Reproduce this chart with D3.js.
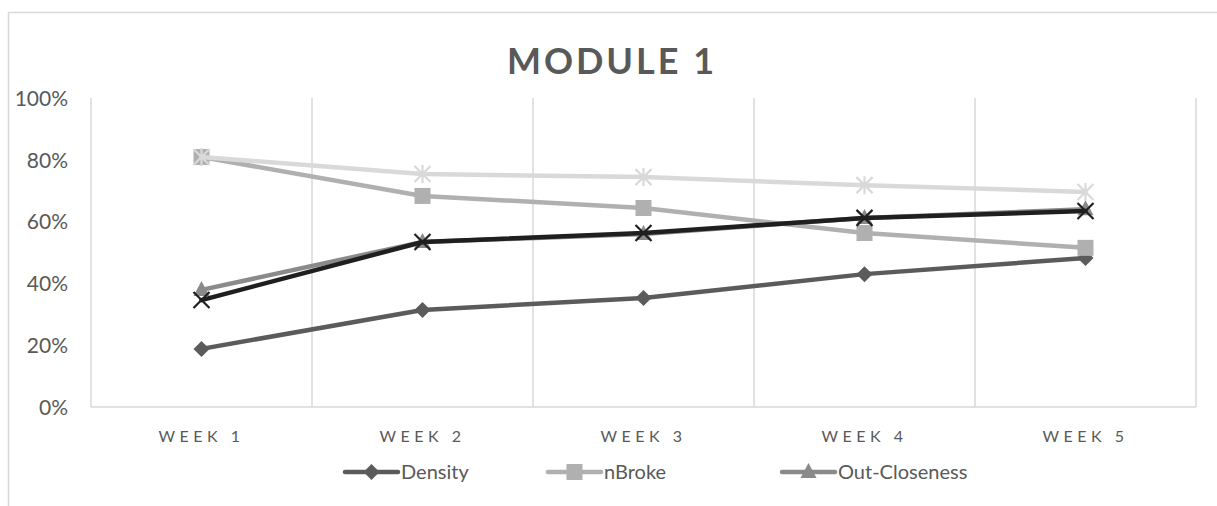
<!DOCTYPE html>
<meta charset="utf-8">
<style>
  body { margin: 0; background: #fff; }
  svg text { font-family: Lato, "Open Sans", sans-serif; fill: #595959; }
</style>
<body>
<div id="chart"></div>
<script src="https://d3js.org/d3.v7.min.js"></script>
<script>
  // data
  const weeks = ["WEEK 1", "WEEK 2", "WEEK 3", "WEEK 4", "WEEK 5"];
  const density = [0.188, 0.314, 0.353, 0.430, 0.482];
  const nBroke = [0.809, 0.683, 0.644, 0.563, 0.515];
  const outCloseness = [0.379, 0.534, 0.560, 0.612, 0.640];
  const lightSeries = [0.809, 0.754, 0.744, 0.718, 0.696];
  const darkSeries = [0.346, 0.534, 0.563, 0.612, 0.634];
  const yTicks = [0, 0.2, 0.4, 0.6, 0.8, 1];

  const series = [
    { name: "Density", values: density, color: "#5b5b5b", marker: "diamond", legend: true },
    { name: "nBroke", values: nBroke, color: "#b0b0b0", marker: "square", legend: true },
    { name: "Out-Closeness", values: outCloseness, color: "#8a8a8a", marker: "triangle", legend: true },
    { name: "Series 4", values: lightSeries, color: "#d9d9d9", marker: "star", legend: false },
    { name: "Series 5", values: darkSeries, color: "#1f1f1f", marker: "cross", legend: false }
  ];

  const width = 1217, height = 506;
  const plot = { left: 91, right: 1196, top: 98, bottom: 407 };

  const svg = d3.select("#chart").append("svg")
    .attr("width", width)
    .attr("height", height);

  // chart frame
  svg.append("rect")
    .attr("x", 8.5).attr("y", 12.5)
    .attr("width", 1230).attr("height", 520)
    .attr("fill", "none")
    .attr("stroke", "#d9d9d9")
    .attr("stroke-width", 1.5);

  svg.append("text")
    .attr("x", 612).attr("y", 74)
    .attr("text-anchor", "middle")
    .style("font-size", "36px")
    .style("font-weight", "bold")
    .style("letter-spacing", "3px")
    .text("MODULE 1");

  const x = d3.scaleBand().domain(weeks).range([plot.left, plot.right]);
  const y = d3.scaleLinear().domain([0, 1]).range([plot.bottom, plot.top]);

  // vertical gridlines between categories
  const gridX = weeks.map(w => x(w)).concat([plot.right]);
  svg.append("g").selectAll("line")
    .data(gridX)
    .join("line")
    .attr("x1", d => d).attr("x2", d => d)
    .attr("y1", plot.top).attr("y2", plot.bottom)
    .attr("stroke", "#d9d9d9")
    .attr("stroke-width", 1.5);

  svg.append("line")
    .attr("x1", plot.left).attr("x2", plot.right)
    .attr("y1", plot.bottom).attr("y2", plot.bottom)
    .attr("stroke", "#d9d9d9")
    .attr("stroke-width", 1.5);

  // y axis labels
  const yAxis = svg.append("g")
    .attr("transform", `translate(${plot.left - 23},0)`)
    .call(d3.axisLeft(y).tickValues(yTicks).tickFormat(d3.format(".0%")).tickSize(0).tickPadding(0));
  yAxis.select(".domain").remove();
  yAxis.selectAll("text")
    .style("font-size", "21px")
    .attr("dy", "0.35em");

  // x axis labels
  const xAxis = svg.append("g")
    .attr("transform", `translate(0,${plot.bottom})`)
    .call(d3.axisBottom(x).tickSize(0).tickPadding(0));
  xAxis.select(".domain").remove();
  xAxis.selectAll("text")
    .attr("dy", "35px")
    .style("font-size", "16px")
    .style("letter-spacing", "4.5px");

  const cx = w => x(w) + x.bandwidth() / 2;

  function drawMarker(g, type, color) {
    if (type === "diamond") {
      g.append("path").attr("d", "M0,-8L8,0L0,8L-8,0Z").attr("fill", color);
    } else if (type === "square") {
      g.append("rect").attr("x", -8).attr("y", -8).attr("width", 16).attr("height", 16).attr("fill", color);
    } else if (type === "triangle") {
      g.append("path").attr("d", "M0,-9L8,6L-8,6Z").attr("fill", color);
    } else if (type === "cross") {
      g.append("path").attr("d", "M-8,-8L8,8M8,-8L-8,8")
        .attr("stroke", color).attr("stroke-width", 2.2).attr("fill", "none");
    } else if (type === "star") {
      g.append("path").attr("d", "M-8,-8L8,8M8,-8L-8,8M0,-9V9")
        .attr("stroke", color).attr("stroke-width", 2.2).attr("fill", "none");
    }
  }

  const line = d3.line()
    .x((d, i) => cx(weeks[i]))
    .y(d => y(d));

  series.forEach(s => {
    const g = svg.append("g");
    g.append("path")
      .attr("d", line(s.values))
      .attr("fill", "none")
      .attr("stroke", s.color)
      .attr("stroke-width", 4.5)
      .attr("stroke-linejoin", "round")
      .attr("stroke-linecap", "round");
    s.values.forEach((v, i) => {
      const m = g.append("g").attr("transform", `translate(${cx(weeks[i])},${y(v)})`);
      drawMarker(m, s.marker, s.color);
    });
  });

  // legend
  const legendX = [345, 548, 782];
  const legendY = 472;
  series.filter(s => s.legend).forEach((s, i) => {
    const g = svg.append("g").attr("transform", `translate(${legendX[i]},${legendY})`);
    g.append("line")
      .attr("x1", 0).attr("x2", 53)
      .attr("stroke", s.color)
      .attr("stroke-width", 4.5)
      .attr("stroke-linecap", "round");
    const m = g.append("g").attr("transform", "translate(26.5,0)");
    drawMarker(m, s.marker, s.color);
    g.append("text")
      .attr("x", 56).attr("dy", "0.35em")
      .style("font-size", "20px")
      .text(s.name);
  });
</script>
</body>
